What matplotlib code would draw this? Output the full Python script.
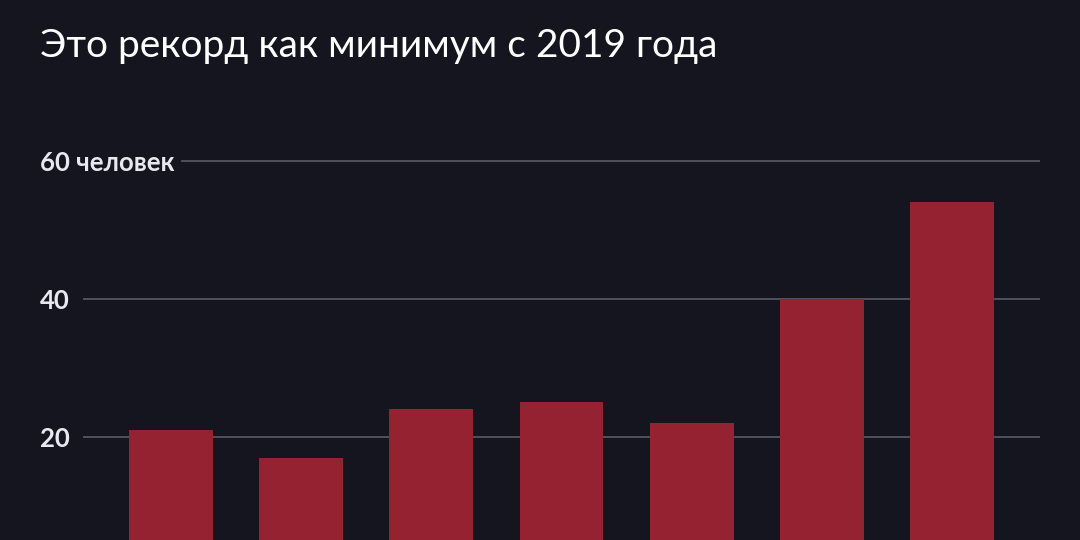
import matplotlib
matplotlib.use("Agg")
import matplotlib.pyplot as plt

# ── Data ────────────────────────────────────────────────────────────────────
categories = ["2019", "2020", "2021", "2022", "2023", "2024", "2025"]
values = [21, 17, 24, 25, 22, 40, 54]
tick_values = [20, 40, 60]
tick_labels = ["20", "40", "60 человек"]
title = "Это рекорд как минимум с 2019 года"

BG = "#14151f"
BAR = "#952230"
GRID = "#595b66"
TEXT = "#e8e8ef"

W, H = 1080, 540
fig = plt.figure(figsize=(W / 100, H / 100), dpi=100, facecolor=BG)

# axes spans the lower part; zero baseline falls below the picture edge
ax = fig.add_axes([83 / W, 0, (1040 - 83) / W, (540 - 140) / H], facecolor=BG)
ax.set_xlim(-0.68, len(categories) - 1 + 0.68)
ax.set_ylim(5.07, 63.04)

ax.bar(range(len(categories)), values, width=0.646, color=BAR, zorder=2)

for side in ax.spines.values():
    side.set_visible(False)
ax.set_xticks([])
ax.set_yticks([])

# tick labels drawn as text, gridlines start just after each label
labels = []
for v, lab in zip(tick_values, tick_labels):
    t = fig.text(40 / W, 0, lab, transform=fig.transFigure, color=TEXT,
                 fontsize=18.5, fontweight="bold", family=["Lato", "DejaVu Sans"],
                 va="center_baseline", ha="left")
    t.set_y(ax.transData.transform((0, v))[1] / H)
    labels.append((v, t))

fig.canvas.draw()
renderer = fig.canvas.get_renderer()
ax_x0 = ax.get_window_extent().x0
ax_w = ax.get_window_extent().width
for v, t in labels:
    x_end = t.get_window_extent(renderer).x1 + 7
    ax.axhline(v, xmin=max(0, (x_end - ax_x0) / ax_w), xmax=1, color=GRID,
               lw=1.2, zorder=1)

fig.text(40 / W, 1 - 57 / H, title, color="white", fontsize=28,
         fontweight="normal", family=["Lato", "DejaVu Sans"], va="baseline")

fig.savefig("out.png", dpi=100, facecolor=BG)
